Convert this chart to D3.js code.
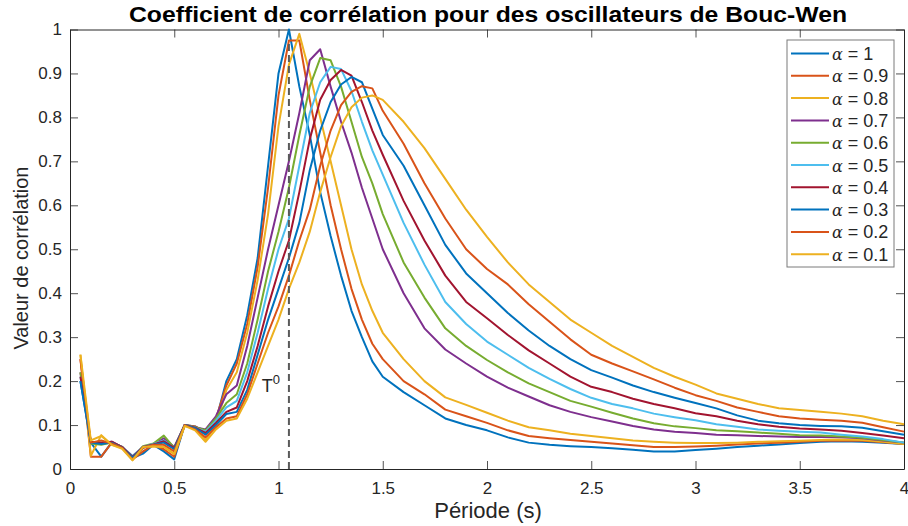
<!DOCTYPE html>
<html>
<head>
<meta charset="utf-8">
<script src="https://cdn.jsdelivr.net/npm/d3@7"></script>
<style>
  body { margin: 0; background: #fff; }
  svg { display: block; font-family: "Liberation Sans", Arial, sans-serif; }
</style>
</head>
<body>
<svg id="chart" width="908" height="526"></svg>
<script>
// periods (s), 0.05 step up to 1.5 then 0.1 step
const periods = [0.05,0.1,0.15,0.2,0.25,0.3,0.35,0.4,0.45,0.5,0.55,0.6,0.65,0.7,0.75,0.8,0.85,0.9,0.95,1.0,
  1.05,1.1,1.15,1.2,1.25,1.3,1.35,1.4,1.45,1.5,
  1.6,1.7,1.8,1.9,2.0,2.1,2.2,2.3,2.4,2.5,2.6,2.7,2.8,2.9,3.0,3.1,3.2,3.3,3.4,3.5,3.6,3.7,3.8,3.9,4.0];

const alphaLabels = ["1", "0.9", "0.8", "0.7", "0.6", "0.5", "0.4", "0.3", "0.2", "0.1"];
const lineColors = ["#0072BD", "#D95319", "#EDB120", "#7E2F8E", "#77AC30", "#4DBEEE", "#A2142F", "#0072BD", "#D95319", "#EDB120"];

const xTicks = [0, 0.5, 1, 1.5, 2, 2.5, 3, 3.5, 4];
const yTicks = [0, 0.1, 0.2, 0.3, 0.4, 0.5, 0.6, 0.7, 0.8, 0.9, 1];
const periodT0 = 1.05;

// correlation values, one array per alpha
const corrA10 = [0.2,0.06,0.028,0.06,0.05,0.025,0.035,0.055,0.04,0.022,0.1,0.097,0.08,0.11,
  0.2,0.25,0.35,0.48,0.69,0.9,1.0,0.87,0.76,0.63,0.53,0.44,0.36,0.3,0.245,0.21,
  0.175,0.145,0.115,0.1,0.088,0.072,0.06,0.055,0.052,0.05,0.047,0.044,0.04,0.04,0.043,0.046,0.05,0.053,0.056,0.059,0.062,0.063,0.062,0.06,0.057];
const corrA09 = [0.25,0.028,0.028,0.06,0.05,0.022,0.04,0.055,0.045,0.028,0.1,0.097,0.085,0.115,
  0.19,0.24,0.33,0.46,0.64,0.85,0.975,0.975,0.84,0.72,0.6,0.5,0.41,0.34,0.285,0.25,
  0.2,0.17,0.135,0.12,0.105,0.088,0.075,0.07,0.066,0.062,0.058,0.054,0.05,0.05,0.051,0.053,0.056,0.058,0.06,0.062,0.064,0.065,0.064,0.061,0.057];
const corrA08 = [0.26,0.03,0.077,0.055,0.048,0.02,0.05,0.052,0.05,0.034,0.098,0.092,0.065,0.1,
  0.18,0.22,0.31,0.43,0.58,0.78,0.92,0.99,0.9,0.8,0.7,0.6,0.5,0.42,0.36,0.31,
  0.25,0.2,0.163,0.146,0.128,0.11,0.095,0.088,0.08,0.075,0.07,0.065,0.062,0.06,0.059,0.059,0.06,0.062,0.063,0.064,0.066,0.067,0.066,0.062,0.057];
const corrA07 = [0.22,0.06,0.058,0.062,0.05,0.025,0.05,0.055,0.07,0.05,0.1,0.095,0.09,0.12,
  0.17,0.19,0.28,0.39,0.5,0.6,0.7,0.81,0.93,0.955,0.87,0.79,0.72,0.64,0.57,0.5,
  0.4,0.32,0.272,0.24,0.21,0.185,0.165,0.145,0.13,0.118,0.108,0.098,0.09,0.085,0.082,0.078,0.077,0.075,0.074,0.073,0.073,0.072,0.07,0.065,0.06];
const corrA06 = [0.22,0.058,0.055,0.06,0.05,0.025,0.052,0.058,0.076,0.048,0.1,0.095,0.088,0.115,
  0.15,0.17,0.24,0.34,0.45,0.54,0.64,0.76,0.87,0.935,0.93,0.87,0.79,0.71,0.65,0.58,
  0.47,0.39,0.32,0.28,0.248,0.22,0.195,0.175,0.155,0.142,0.128,0.115,0.104,0.097,0.093,0.088,0.086,0.083,0.08,0.077,0.076,0.074,0.071,0.066,0.06];
const corrA05 = [0.21,0.06,0.06,0.06,0.05,0.03,0.05,0.057,0.065,0.047,0.1,0.094,0.085,0.11,
  0.14,0.155,0.22,0.31,0.41,0.5,0.57,0.69,0.81,0.88,0.915,0.91,0.86,0.79,0.725,0.67,
  0.56,0.465,0.38,0.33,0.29,0.26,0.23,0.205,0.182,0.162,0.148,0.138,0.126,0.118,0.111,0.102,0.096,0.09,0.087,0.085,0.083,0.078,0.074,0.068,0.06];
const corrA04 = [0.21,0.062,0.06,0.062,0.05,0.028,0.05,0.056,0.063,0.048,0.1,0.094,0.082,0.105,
  0.13,0.14,0.2,0.28,0.37,0.45,0.52,0.63,0.75,0.84,0.885,0.908,0.895,0.835,0.77,0.715,
  0.61,0.52,0.44,0.38,0.343,0.305,0.27,0.24,0.21,0.187,0.175,0.16,0.148,0.138,0.127,0.12,0.11,0.102,0.096,0.092,0.09,0.087,0.082,0.076,0.07];
const corrA03 = [0.2,0.06,0.057,0.06,0.048,0.026,0.048,0.055,0.06,0.045,0.1,0.093,0.078,0.1,
  0.125,0.13,0.18,0.26,0.34,0.41,0.48,0.56,0.68,0.77,0.835,0.875,0.892,0.88,0.82,0.76,
  0.69,0.6,0.51,0.445,0.4,0.355,0.315,0.28,0.25,0.225,0.208,0.19,0.175,0.162,0.15,0.138,0.122,0.11,0.104,0.1,0.098,0.097,0.094,0.086,0.078];
const corrA02 = [0.25,0.06,0.065,0.058,0.048,0.022,0.048,0.055,0.055,0.04,0.1,0.09,0.072,0.095,
  0.115,0.12,0.17,0.24,0.31,0.37,0.44,0.52,0.59,0.69,0.77,0.828,0.858,0.871,0.866,0.815,
  0.74,0.65,0.57,0.5,0.455,0.42,0.375,0.335,0.295,0.26,0.24,0.222,0.204,0.185,0.168,0.155,0.14,0.13,0.12,0.115,0.112,0.11,0.105,0.095,0.085];
const corrA01 = [0.26,0.065,0.075,0.055,0.046,0.02,0.05,0.052,0.05,0.035,0.098,0.088,0.062,0.09,
  0.11,0.115,0.16,0.22,0.28,0.34,0.41,0.47,0.54,0.63,0.71,0.78,0.823,0.845,0.85,0.84,
  0.79,0.73,0.66,0.59,0.528,0.47,0.42,0.38,0.34,0.31,0.28,0.255,0.23,0.21,0.192,0.172,0.16,0.148,0.138,0.134,0.13,0.126,0.12,0.11,0.102];

const seriesValues = [corrA10, corrA09, corrA08, corrA07, corrA06, corrA05, corrA04, corrA03, corrA02, corrA01];

const svg = d3.select("#chart");
const axisColor = "#262626";

const x = d3.scaleLinear().domain([0, 4]).range([70, 904]);
const y = d3.scaleLinear().domain([0, 1]).range([469, 29.5]);

// axes with inward ticks on all four sides
const xAxis = svg.append("g").attr("transform", "translate(0," + y(0) + ")")
  .call(d3.axisBottom(x).tickValues(xTicks).tickSize(-8).tickSizeOuter(0).tickPadding(13).tickFormat(d => d));
const xAxisTop = svg.append("g").attr("transform", "translate(0," + y(1) + ")")
  .call(d3.axisTop(x).tickValues(xTicks).tickSize(-8).tickSizeOuter(0).tickFormat(""));
const yAxis = svg.append("g").attr("transform", "translate(" + x(0) + ",0)")
  .call(d3.axisLeft(y).tickValues(yTicks).tickSize(-8).tickSizeOuter(0).tickPadding(8).tickFormat(d => d));
const yAxisRight = svg.append("g").attr("transform", "translate(" + x(4) + ",0)")
  .call(d3.axisRight(y).tickValues(yTicks).tickSize(-8).tickSizeOuter(0).tickFormat(""));

[xAxis, xAxisTop, yAxis, yAxisRight].forEach(g => {
  g.select(".domain").attr("stroke", axisColor).attr("stroke-width", 1);
  g.selectAll(".tick line").attr("stroke", axisColor).attr("stroke-width", 0.8);
  g.selectAll(".tick text").attr("fill", axisColor).style("font-size", "17px")
    .style("font-family", "'Liberation Sans', Arial, sans-serif");
});

// curves
const line = d3.line()
  .x((d, i) => x(periods[i]))
  .y(d => y(d));

svg.append("g").selectAll("path")
  .data(seriesValues)
  .enter().append("path")
  .attr("d", line)
  .attr("fill", "none")
  .attr("stroke", (d, i) => lineColors[i])
  .attr("stroke-width", 2)
  .attr("stroke-linejoin", "round");

// T0 dashed marker
svg.append("line")
  .attr("x1", x(periodT0)).attr("x2", x(periodT0))
  .attr("y1", y(0)).attr("y2", y(0.975))
  .attr("stroke", "#5a5a5a")
  .attr("stroke-width", 2)
  .attr("stroke-dasharray", "7,4");

const t0 = svg.append("text")
  .attr("x", x(0.92)).attr("y", y(0.175))
  .attr("fill", axisColor).style("font-size", "18px");
t0.append("tspan").text("T");
t0.append("tspan").attr("dy", -8).style("font-size", "13px").text("0");

// titles
svg.append("text")
  .attr("x", 488).attr("y", 22)
  .attr("text-anchor", "middle")
  .attr("textLength", 718).attr("lengthAdjust", "spacingAndGlyphs")
  .style("font-size", "22px").style("font-weight", "bold")
  .attr("fill", "#000")
  .text("Coefficient de corrélation pour des oscillateurs de Bouc-Wen");

svg.append("text")
  .attr("x", 488).attr("y", 518)
  .attr("text-anchor", "middle")
  .style("font-size", "22px")
  .attr("fill", axisColor)
  .text("Période (s)");

svg.append("text")
  .attr("transform", "translate(28," + y(0.48) + ") rotate(-90)")
  .attr("text-anchor", "middle")
  .style("font-size", "20px")
  .attr("fill", axisColor)
  .text("Valeur de corrélation");

// legend
const legend = svg.append("g").attr("transform", "translate(787,40)");
legend.append("rect")
  .attr("width", 107).attr("height", 227)
  .attr("fill", "#fff")
  .attr("stroke", "#7a7a7a")
  .attr("stroke-width", 1);

const rows = legend.selectAll("g.row")
  .data(alphaLabels)
  .enter().append("g")
  .attr("class", "row")
  .attr("transform", (d, i) => "translate(0," + (13.5 + i * 22.3) + ")");

rows.append("line")
  .attr("x1", 4).attr("x2", 42)
  .attr("stroke", (d, i) => lineColors[i])
  .attr("stroke-width", 2);

const labels = rows.append("text")
  .attr("x", 45).attr("y", 6.5)
  .attr("fill", axisColor)
  .style("font-size", "18px");
labels.append("tspan")
  .style("font-family", "'DejaVu Serif', serif")
  .style("font-style", "italic")
  .style("font-size", "16px")
  .text("α");
labels.append("tspan").text(d => " = " + d);
</script>
</body>
</html>
